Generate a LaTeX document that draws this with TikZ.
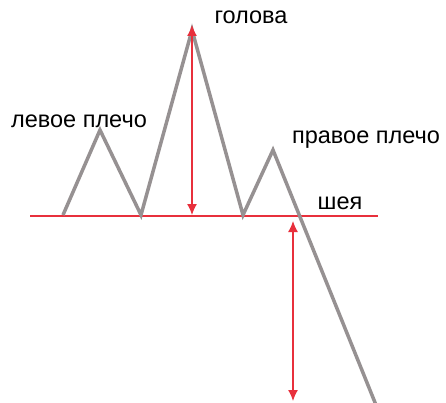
\documentclass[tikz,border=0pt]{standalone}
\usepackage{fontspec}
\setmainfont{Liberation Sans}
\usetikzlibrary{arrows.meta}

\definecolor{pricegray}{RGB}{150,145,146}
\definecolor{markred}{RGB}{232,48,60}

\begin{document}
\begin{tikzpicture}[x=1pt, y=-1pt, font=\fontsize{23.5}{27}\selectfont]

    \useasboundingbox (0,0) rectangle (446,403);

    % price line
    \coordinate (start)  at (63,215);
    \coordinate (lpeak)  at (100,130);
    \coordinate (lvally) at (141,215);
    \coordinate (head)   at (192,30);
    \coordinate (rvally) at (243,215);
    \coordinate (rpeak)  at (273,150);
    \coordinate (fin)    at (376,405);

    % neckline
    \coordinate (nleft)  at (30,216);
    \coordinate (nright) at (378,216);
    \draw[markred, line width=1.3pt] (nleft) -- (nright);

    \draw[pricegray, line width=3.5pt]
        (start) -- (lpeak) -- (lvally) -- (head) -- (rvally) -- (rpeak) -- (fin);

    % heights
    \coordinate (htop) at (192,25);
    \coordinate (hbot) at (192,215);
    \coordinate (ttop) at (293,221);
    \coordinate (tbot) at (293,401);
    \draw[markred, line width=1.3pt, {Latex[length=11pt,width=10pt]}-{Latex[length=11pt,width=10pt]}] (htop) -- (hbot);
    \draw[markred, line width=1.3pt, {Latex[length=11pt,width=10pt]}-{Latex[length=11pt,width=10pt]}] (ttop) -- (tbot);

    \node (golova) at (251,17) {голова};
    \node (levoe)  at (79,121) {левое плечо};
    \node (pravoe) at (366,140) {правое плечо};
    \node (sheya)  at (340,203) {шея};

\end{tikzpicture}
\end{document}
